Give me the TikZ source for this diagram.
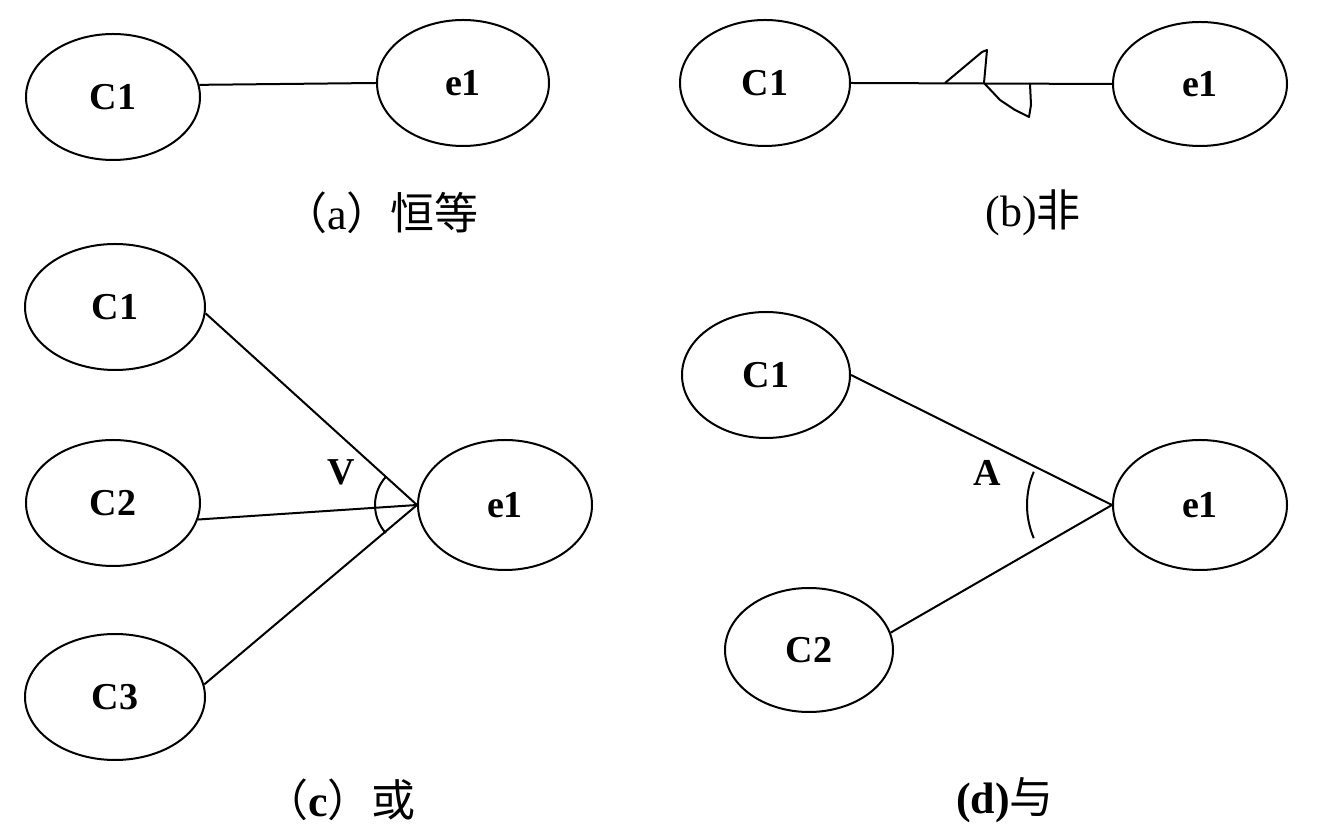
\documentclass[tikz,border=0pt]{standalone}
\usepackage{fontspec}
\setmainfont{Liberation Serif}
\newfontfamily\cjk{Noto Sans CJK SC}
\usetikzlibrary{shapes.geometric}
\tikzset{
    ell/.style={draw, ellipse, line width=2pt, minimum width=174, minimum height=126,
        inner sep=0pt, font=\fontsize{38}{42}\selectfont\bfseries},
    conn/.style={line width=2pt},
    lab/.style={font=\fontsize{38}{42}\selectfont\bfseries},
    captxt/.style={font=\fontsize{44}{48}\selectfont},
    notmark/.pic={
        % squiggle on the line
        \draw[line width=2pt, line join=round] (-39,0) -- (-2,31) -- (3,33) -- (1,11) -- (0,0)
            -- (16,-17) -- (31,-27) -- (45,-34) -- (47,-22) -- (46,-1);
    }
}
\begin{document}
\begin{tikzpicture}[x=1pt,y=1pt]
    \useasboundingbox (0,0) rectangle (1334,838);
    % (a)
    \node[ell] (ca) at (113,741) {C1};
    \node[ell, minimum width=172] (ea) at (463,755) {e1};
    \draw[conn] (ca.8) -- (ea.west);
    \node[captxt] (capa) at (381,625) {{\cjk （}a{\cjk ）恒等}};
    % (b)
    \node[ell, minimum width=170] (cb) at (765,755) {C1};
    \node[ell, minimum width=174, minimum height=124] (eb) at (1200,754) {e1};
    \draw[conn] (cb.east) -- (eb.west);
    \pic at (984,755) {notmark};
    \node[captxt] (capb) at (1033,625) {(b){\cjk 非}};
    % (c)
    \node[ell, minimum width=180] (cc1) at (115,531) {C1};
    \node[ell] (cc2) at (113,335) {C2};
    \node[ell, minimum width=180] (cc3) at (115,141) {C3};
    \node[ell, minimum height=130] (ec) at (505,333) {e1};
    \draw[conn] (cc1.-4) -- (ec.west);
    \draw[conn] (cc2.-11) -- (ec.west);
    \draw[conn] (cc3.8) -- (ec.west);
    \draw[conn] ([shift={(138:42)}]ec.west) arc[start angle=138, end angle=222, radius=42];
    \node[lab] (orlab) at (341,366) {V};
    \node[captxt] (capc) at (340,38) {{\cjk （}\textbf{c}{\cjk ）或}};
    % (d)
    \node[ell, minimum width=168] (cd1) at (766,463) {C1};
    \node[ell, minimum width=168, minimum height=124] (cd2) at (809,188) {C2};
    \node[ell, minimum height=130] (ed) at (1200,333) {e1};
    \draw[conn] (cd1.east) -- (ed.west);
    \draw[conn] (cd2.12) -- (ed.west);
    \draw[conn] ([shift={(157:85)}]ed.west) arc[start angle=157, end angle=203, radius=85];
    \node[lab] (andlab) at (987,365) {A};
    \node[captxt] (capd) at (1005,38) {\textbf{(d)}{\cjk 与}};
\end{tikzpicture}
\end{document}
